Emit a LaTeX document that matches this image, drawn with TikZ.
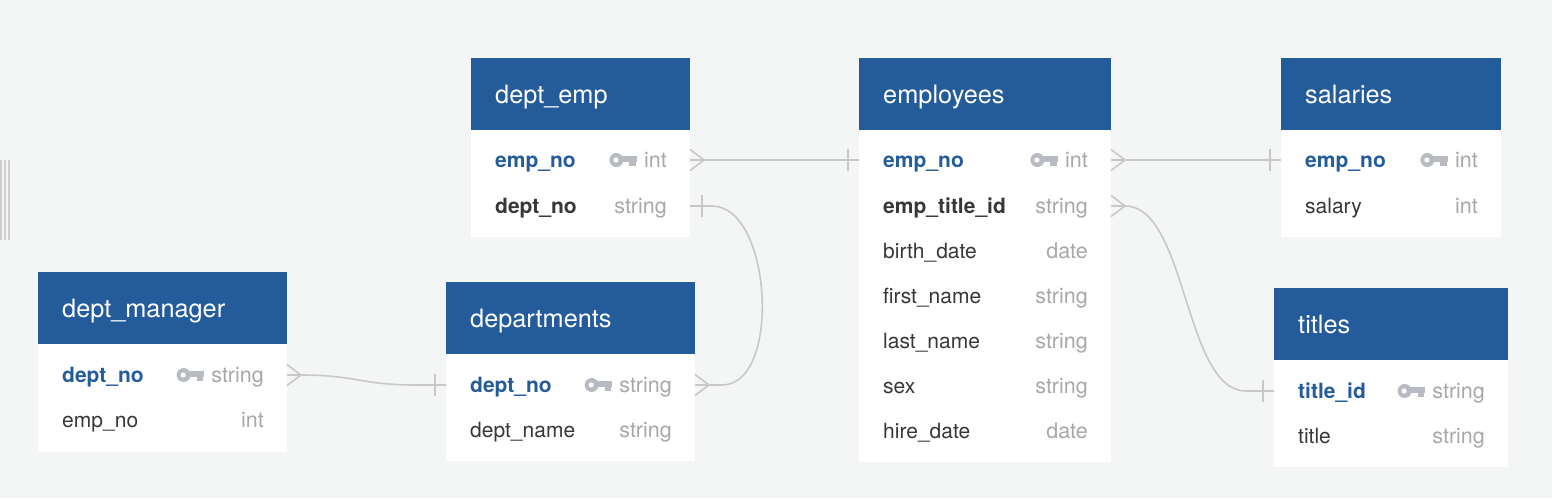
\documentclass[tikz,border=0pt]{standalone}
\usepackage{fontspec}
\setmainfont{TeX Gyre Heros}
\usetikzlibrary{calc}
\definecolor{bgc}{RGB}{244,246,245}
\definecolor{hdr}{RGB}{35,91,155}
\definecolor{darktxt}{RGB}{55,55,58}
\definecolor{typetxt}{RGB}{168,168,170}
\definecolor{keyc}{RGB}{184,187,194}
\definecolor{connc}{RGB}{200,200,200}
\definecolor{barc}{RGB}{206,206,206}
\tikzset{
  titletext/.style={text=white,font=\fontsize{25.3}{29}\selectfont,inner sep=0pt,anchor=base west},
  pkfield/.style={text=hdr,font=\fontsize{21}{25}\selectfont\bfseries,inner sep=0pt,anchor=base west},
  fkfield/.style={text=darktxt,font=\fontsize{21}{25}\selectfont\bfseries,inner sep=0pt,anchor=base west},
  plainfield/.style={text=darktxt,font=\fontsize{21}{25}\selectfont,inner sep=0pt,anchor=base west},
  typetext/.style={text=typetxt,font=\fontsize{21.5}{25}\selectfont,inner sep=0pt,anchor=base east},
  conn/.style={draw=connc,line width=1.6pt},
}
% table: name, L, R, top, bottom, title
\newcommand\ertab[6]{%
  \fill[white] (#2,#4) rectangle (#3,#5);
  \fill[hdr] (#2,#4) rectangle (#3,#4+72);
  \node[titletext] (#1) at (#2+24,#4+45) {#6};
}
% row: name, L, R, y, style, field, type
\newcommand\errow[7]{%
  \coordinate (#1-w) at (#2,#4);
  \coordinate (#1-e) at (#3,#4);
  \node[#5] (#1-f) at (#2+24,#4+7.5) {#6};
  \node[typetext] (#1-t) at (#3-23,#4+7.5) {#7};
}
% key icon to the left of a type node
\newcommand\erkey[2]{%
  \begin{scope}[shift={($(#1-t.base west)+(-7,-7.5)$)}]
    \fill[keyc] (-20.5,0) circle (7);
    \fill[keyc] (-15,-4) rectangle (0,1.6);
    \fill[keyc] (-7.5,1.6) rectangle (-1.2,6);
    \fill[white] (-21,0) circle (2.6);
  \end{scope}
}
\newcommand\crowft[1]{\draw[conn] ($(#1)+(0,-10.5)$) -- ($(#1)+(14,0)$) -- ($(#1)+(0,10.5)$);}
\newcommand\onebar[2]{\draw[conn] ($(#1)+(#2,-11)$) -- ($(#1)+(#2,11)$);}
\begin{document}
\begin{tikzpicture}[x=1pt,y=-1pt]
\useasboundingbox (0,0) rectangle (1552,498);
\fill[bgc] (0,0) rectangle (1552,498);
% left edge handle
\fill[barc] (0,160) rectangle (2,240);
\fill[barc] (4,160) rectangle (6,240);
\fill[barc] (8,160) rectangle (10,240);

% dept_emp
\ertab{deptemp}{471}{690}{58}{237}{dept\_emp}
\errow{de-emp}{471}{690}{160}{pkfield}{emp\_no}{int}
\errow{de-dno}{471}{690}{206}{fkfield}{dept\_no}{string}
\erkey{de-emp}{}

% employees
\ertab{employees}{859}{1111}{58}{462}{employees}
\errow{em-emp}{859}{1111}{160}{pkfield}{emp\_no}{int}
\errow{em-eid}{859}{1111}{206}{fkfield}{emp\_title\_id}{string}
\errow{em-bd}{859}{1111}{251}{plainfield}{birth\_date}{date}
\errow{em-fn}{859}{1111}{296}{plainfield}{first\_name}{string}
\errow{em-ln}{859}{1111}{341}{plainfield}{last\_name}{string}
\errow{em-sx}{859}{1111}{386}{plainfield}{sex}{string}
\errow{em-hd}{859}{1111}{431}{plainfield}{hire\_date}{date}
\erkey{em-emp}{}

% salaries
\ertab{salaries}{1281}{1501}{58}{237}{salaries}
\errow{sa-emp}{1281}{1501}{160}{pkfield}{emp\_no}{int}
\errow{sa-sal}{1281}{1501}{206}{plainfield}{salary}{int}
\erkey{sa-emp}{}

% dept_manager
\ertab{deptmanager}{38}{287}{272}{452}{dept\_manager}
\errow{dm-dno}{38}{287}{375}{pkfield}{dept\_no}{string}
\errow{dm-emp}{38}{287}{420}{plainfield}{emp\_no}{int}
\erkey{dm-dno}{}

% departments
\ertab{departments}{446}{695}{282}{461}{departments}
\errow{dp-dno}{446}{695}{385}{pkfield}{dept\_no}{string}
\errow{dp-dnm}{446}{695}{430}{plainfield}{dept\_name}{string}
\erkey{dp-dno}{}

% titles
\ertab{titles}{1274}{1508}{288}{467}{titles}
\errow{ti-tid}{1274}{1508}{391}{pkfield}{title\_id}{string}
\errow{ti-tit}{1274}{1508}{436}{plainfield}{title}{string}
\erkey{ti-tid}{}

% connectors
\draw[conn] (de-emp-e) -- (em-emp-w);
\crowft{de-emp-e}
\onebar{em-emp-w}{-11}

\draw[conn] (de-dno-e) -- ($(de-dno-e)+(22,0)$)
  .. controls ($(de-dno-e)+(82,0)$) and ($(dp-dno-e)+(87,0)$) .. ($(dp-dno-e)+(27,0)$) -- (dp-dno-e);
\onebar{de-dno-e}{12}
\crowft{dp-dno-e}

\draw[conn] (dm-dno-e) -- ($(dm-dno-e)+(14,0)$)
  .. controls +(55,0) and +(-55,0) .. ($(dp-dno-w)+(-30,0)$) -- (dp-dno-w);
\crowft{dm-dno-e}
\onebar{dp-dno-w}{-11}

\draw[conn] (em-emp-e) -- (sa-emp-w);
\crowft{em-emp-e}
\onebar{sa-emp-w}{-11}

\draw[conn] (em-eid-e) -- ($(em-eid-e)+(14,0)$)
  .. controls +(62,0) and +(-62,0) .. ($(ti-tid-w)+(-28,0)$) -- (ti-tid-w);
\crowft{em-eid-e}
\onebar{ti-tid-w}{-11}
\end{tikzpicture}
\end{document}
